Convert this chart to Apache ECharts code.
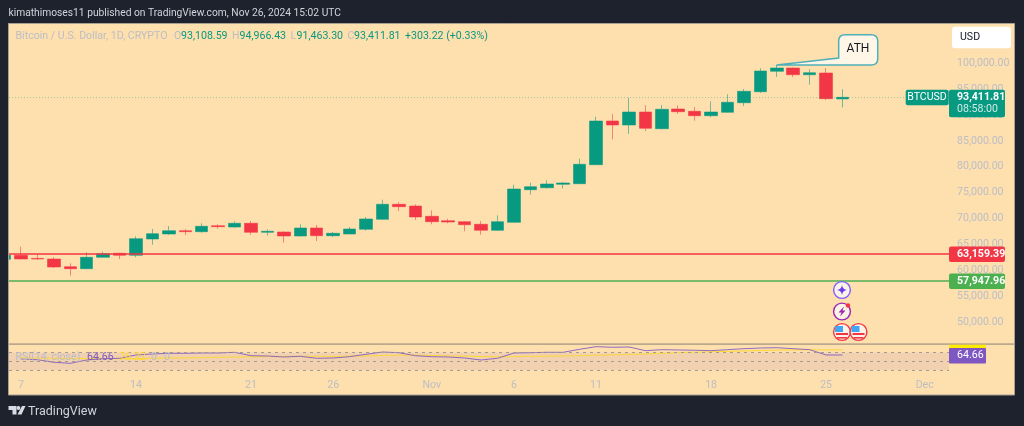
<!DOCTYPE html>
<html>
<head>
<meta charset="utf-8">
<style>html,body{margin:0;padding:0;background:#1e222d}#c{width:1024px;height:426px}</style>
<script src="https://cdn.jsdelivr.net/npm/echarts@6/dist/echarts.min.js"></script>
</head>
<body>
<div id="c"></div>
<script>
const dates = ['Oct 6','Oct 7','Oct 8','Oct 9','Oct 10','Oct 11','Oct 12','Oct 13','Oct 14','Oct 15','Oct 16','Oct 17','Oct 18','Oct 19','Oct 20','Oct 21','Oct 22','Oct 23','Oct 24','Oct 25','Oct 26','Oct 27','Oct 28','Oct 29','Oct 30','Oct 31','Nov 1','Nov 2','Nov 3','Nov 4','Nov 5','Nov 6','Nov 7','Nov 8','Nov 9','Nov 10','Nov 11','Nov 12','Nov 13','Nov 14','Nov 15','Nov 16','Nov 17','Nov 18','Nov 19','Nov 20','Nov 21','Nov 22','Nov 23','Nov 24','Nov 25','Nov 26'];
const opens  = [62143,62915,62317,62200,60714,60328,62529,63301,62915,66062,67027,67664,67471,68629,68378,69093,67355,67413,66641,68185,66699,67027,67934,69865,72761,72432,70444,69595,69402,68900,67741,69286,75579,75965,76622,76737,80405,88842,88070,90579,87355,91158,90714,89865,90521,92375,94498,98436,99073,97780,98108,93108.59];
const closes = [62915,62200,62200,60656,60328,62529,63224,62915,66120,67085,67664,67471,68514,68436,69093,67355,67548,66641,68185,66699,67162,67992,69923,72761,72297,70309,69402,69343,68822,67741,69402,75714,76158,76680,76873,80483,88842,88070,90579,87432,91100,90637,89865,90579,92452,94575,98494,99073,97780,98166,93147,93411.81];
const lows   = [62100,62143,62008,60463,58977,60212,62452,62200,62529,64962,66892,66834,67278,68050,68243,66892,66699,65347,66583,65676,66448,66969,67664,69788,71467,69730,68900,69093,67548,66892,67606,69209,74614,75772,75850,76680,80347,85309,86332,86911,87239,90193,88900,89556,90444,91737,94247,97336,97336,95849,92896,91463.30];
const highs  = [62990,64575,63108,62587,61370,63494,63610,63417,66583,67992,68571,67992,69093,68900,69479,69537,67934,67548,68900,68765,67413,68378,70309,73649,73147,72761,71602,69980,69537,69537,70637,76544,76930,77394,77066,81564,89672,90193,93340,91873,91930,91873,91544,92645,93996,95019,99015,99653,99170,98822,99073,94966.43];
const rsi    = [56.5,55.3,53.7,47.7,45.3,53,56,57,64.7,67,68.6,68.6,69.3,69.3,70.9,63,62.3,60,61.6,57,57.7,60.7,66.3,71.6,70,63,60.7,60,57.7,53,57,69.3,70,70.9,70.9,77.9,84,82.6,83.3,74.7,77,76.3,75.6,74.7,77,79.3,80.9,81.6,79.3,77,64.7,64.66];
const rsiMa  = [58,58,57.5,57,56.5,56,56,56,56.5,57,57.5,58,58.5,59.5,60,60.5,61,61,61.5,61.5,61.5,62,62.5,63.5,64.5,64,63.5,62.5,62,61,60.5,61,61.5,62,62.5,63,64,65,66,67,68.5,70,71,72,73,74,75,76,76.5,77,76.5,76.22];
const priceTicks = [50000,55000,60000,65000,70000,75000,80000,85000,90000,95000,100000];
const timeLabels = {1:'7',8:'14',15:'21',20:'26',26:'Nov',31:'6',36:'11',43:'18',50:'25',56:'Dec'};
const lastPrice = 93411.81, redLevel = 63159.39, greenLevel = 57947.96;
const rsiBands = [70,50,30];

const UP='#089981', DOWN='#f23645', MUTED='#bcbec6', FONT='Roboto';
const xOf = i => i - 1;
const xMin = -0.73, xMax = 56.48;
const candles = dates.map((d,i)=>[xOf(i),opens[i],closes[i],lows[i],highs[i]]);
const chart = echarts.init(document.getElementById('c'),null,{renderer:'canvas'});
const dashed = (v)=>({yAxis:v,lineStyle:{type:[3,4],color:'#a39c95',width:1}});
const base = {
  backgroundColor:'#1e222d', animation:false,
  grid:[{left:9,top:24,width:940,height:320},{left:9,top:344,width:940,height:30}],
  xAxis:[
    {type:'value',gridIndex:0,min:xMin,max:xMax,show:false,splitLine:{show:false}},
    {type:'value',gridIndex:1,min:xMin,max:xMax,splitLine:{show:false},axisLine:{show:false},axisTick:{show:false},
     axisLabel:{customValues:Object.keys(timeLabels).map(k=>xOf(+k)),formatter:v=>timeLabels[v+1]||'',color:MUTED,fontFamily:FONT,fontSize:10.6,margin:6,hideOverlap:false}}
  ],
  yAxis:[
    {type:'value',gridIndex:0,min:45790,max:107570,position:'right',splitLine:{show:false},axisLine:{show:false},axisTick:{show:false},
     axisLabel:{customValues:priceTicks,formatter:v=>v.toLocaleString('en-US',{minimumFractionDigits:2}),color:MUTED,fontFamily:FONT,fontSize:10.6,margin:8,align:'left',padding:[0,0,2,0]}},
    {type:'value',gridIndex:1,min:20.5,max:90.2,show:false,splitLine:{show:false}}
  ],
  series:[
    {type:'candlestick',name:'BTCUSD',xAxisIndex:0,yAxisIndex:0,barWidth:13,data:candles,clip:true,silent:true,
     itemStyle:{color:UP,color0:DOWN,borderColor:'rgba(8,153,129,.55)',borderColor0:'rgba(242,54,69,.55)',borderWidth:1},
     markLine:{silent:true,symbol:'none',label:{show:false},animation:false,data:[
       {yAxis:lastPrice,lineStyle:{type:[1,2],color:'#089981',opacity:.35,width:1}},
       {yAxis:redLevel,lineStyle:{type:'solid',color:DOWN,width:1.6}},
       {yAxis:greenLevel,lineStyle:{type:'solid',color:'#4caf50',width:1.6}}
     ]}},
    {type:'line',name:'RSI',xAxisIndex:1,yAxisIndex:1,showSymbol:false,silent:true,clip:false,z:4,
     data:rsi.map((v,i)=>[xOf(i),v]).slice(1),lineStyle:{color:'#7e57c2',width:1,opacity:.85},
     markLine:{silent:true,symbol:'none',label:{show:false},animation:false,data:rsiBands.map(dashed)},
     markArea:{silent:true,itemStyle:{color:'rgba(126,87,194,.1)'},data:[[{yAxis:rsiBands[0]},{yAxis:rsiBands[2]}]]}},
    {type:'line',name:'RSI-based MA',xAxisIndex:1,yAxisIndex:1,showSymbol:false,silent:true,clip:false,z:3,
     data:rsiMa.map((v,i)=>[xOf(i),v]).slice(1),lineStyle:{color:'#fdd835',width:1}}
  ]
};
chart.setOption(base);

const yOf = v => chart.convertToPixel({yAxisIndex:0},v);
const T=(x,y,text,fill,opt={})=>({type:'text',z:opt.z||50,x,y,silent:true,style:{text,fill,font:`${opt.weight||'normal'} ${opt.size||10.6}px ${FONT}`,textAlign:opt.align||'left',textVerticalAlign:'middle',verticalAlign:'middle'}});
const R=(x,y,w,h,fill,opt={})=>({type:'rect',z:opt.z||40,silent:true,shape:{x,y,width:w,height:h,r:opt.r||0},style:{fill,stroke:opt.stroke||null,lineWidth:opt.lw||0}});
const C=(cx,cy,r,fill,stroke,lw,z=46)=>({type:'circle',z,silent:true,shape:{cx,cy,r},style:{fill,stroke,lineWidth:lw}});
let pathCount=0;
const P=(d,fill,stroke,lw,z=47)=>{
  const name='tvPath'+(pathCount++);
  echarts.graphic.registerShape(name,echarts.graphic.extendPath(d));
  return {type:name,z,silent:true,style:{fill,stroke,lineWidth:lw||0}};
};
const flag=(cx,cy)=>[
  C(cx,cy,8.4,'#fbf3e6',DOWN,1.4),
  R(cx-6,cy+1,12,2,DOWN,{z:47}),R(cx-5,cy+5,10,1.6,DOWN,{z:47}),
  R(cx-7,cy-6,8,6,'#42a5f5',{z:48})
];
const py=yOf(lastPrice), ry=yOf(redLevel), gy=yOf(greenLevel);
const els=[
  R(8.5,23.5,1006,371.5,'#fedfae',{stroke:'#a69f92',lw:1,z:-5}),
  R(0,23,8,372,'#1e222d',{z:30}),
  R(8,23.5,1,371.5,'#a69f92',{z:31}),
  R(9,343.3,1005,1.6,'#bba98c',{z:1}),
  T(8.5,13,'kimathimoses11 published on TradingView.com, Nov 26, 2024 15:02 UTC','#d1d4dc',{size:10.25}),
  T(15.5,36.5,'Bitcoin / U.S. Dollar, 1D, CRYPTO',MUTED),
  T(174,36.5,'O',MUTED),T(181,36.5,'93,108.59',UP),
  T(232,36.5,'H',MUTED),T(239.5,36.5,'94,966.43',UP),
  T(290.5,36.5,'L',MUTED),T(296.5,36.5,'91,463.30',UP),
  T(347.5,36.5,'C',MUTED),T(354,36.5,'93,411.81',UP),
  T(405,36.5,'+303.22 (+0.33%)',UP),
  T(15.5,357,'RSI(14, close)',MUTED),
  T(87,357,'64.66','#7e57c2'),T(119,357,'76.22','#fdd835'),T(151,357,'0',MUTED),T(164,357,'0',MUTED),
  R(952,26.7,59,21.6,'#ffffff',{r:3}),T(960,37.5,'USD','#131722'),
  P('M776.5 65L838.7 58V41Q838.7 34.7 845 34.7H871Q877.7 34.7 877.7 41V59Q877.7 65 871 65Z','#fff6e8','#4fb0b8',1.5,45),
  P('M776.5 65V68',null,'#4fb0b8',1,45),
  T(858,49,'ATH','#131722',{align:'center',size:12}),
  R(905.7,py-7.6,43,15.4,UP,{r:2}),T(927,py,'BTCUSD','#fff',{align:'center'}),
  R(949,py-7.6,56,27.4,UP,{r:2}),T(957,py,'93,411.81','#fff',{weight:'bold'}),T(957,py+12,'08:58:00','#cfe9e4'),
  R(949,ry-7.5,56,15.4,DOWN,{r:2}),T(957,ry,'63,159.39','#fff',{weight:'bold'}),
  R(949,gy-7.5,56,15.4,'#4caf50',{r:2}),T(957,gy,'57,947.96','#fff',{weight:'bold'}),
  R(949,344.7,37,3.5,'#ffeb00'),
  R(949,348,37,15.4,'#7e57c2',{r:1}),T(957,355.7,'64.66','#fff'),
  C(842,290,8.4,'#fbf3e6','#7c5cff',1.4),
  P('M842 285Q842.6 289.4 847 290Q842.6 290.6 842 295Q841.4 290.6 837 290Q841.4 289.4 842 285Z','#6a3df0',null,0),
  C(842,311.5,8.4,'#fbf3e6','#9c27b0',1.4),
  P('M844 306.5L838.5 312.5H841.5L840 316.5L845.5 310.5H842.5Z','#9c27b0',null,0),
  C(848,305.5,2.2,DOWN,null,0,48),
  ...flag(842,332),...flag(858.5,332),
  P('M8.5 406H16.5V414.5H12.5V410H8.5ZM22 406H25.5L21.5 414.5H17.5Z','#d8dbe3',null,0),
  C(18.4,408,1.9,'#d8dbe3',null,0),
  T(28,411.5,'TradingView','#d1d4dc',{size:12.5})
];
chart.setOption({graphic:{elements:els}});
</script>
</body>
</html>
